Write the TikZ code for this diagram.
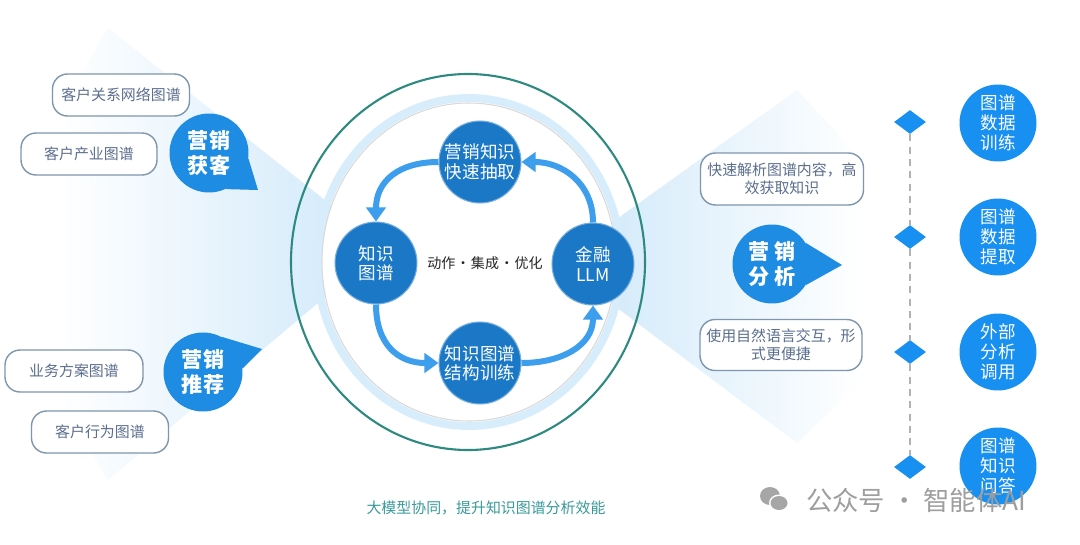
\documentclass[tikz,border=0pt]{standalone}
\usepackage{fontspec}
\setmainfont{Noto Sans CJK SC}
\usetikzlibrary{arrows.meta,shapes.geometric}

\definecolor{coreblue}{HTML}{1A78C6}
\definecolor{arrowblue}{HTML}{3C9EEC}
\definecolor{bubbleblue}{HTML}{1E8CE2}
\definecolor{stepblue}{HTML}{1890F2}
\definecolor{tagline}{HTML}{7F96AD}
\definecolor{tagtext}{HTML}{5B6E8E}
\definecolor{ringteal}{HTML}{2E8A80}
\definecolor{ringlight}{HTML}{D8EDFB}
\definecolor{fanblue}{HTML}{D3EAFA}
\definecolor{capteal}{HTML}{3A9A9A}

\pgfdeclarelayer{fans}
\pgfdeclarelayer{tails}
\pgfsetlayers{fans,tails,main}

\tikzset{
  core/.style={circle,fill=coreblue,draw=coreblue!60!white,line width=0.6pt,minimum size=1.64cm,inner sep=0pt,
    text=white,font=\fontsize{10}{11}\selectfont,align=center},
  tag/.style={rounded corners=0.3cm,draw=tagline,line width=0.8pt,fill=white,text=tagtext,
    font=\fontsize{8.5}{10.4}\selectfont,align=center,inner sep=0pt},
  bubble/.style={circle,fill=bubbleblue,minimum size=1.58cm,inner sep=0pt,text=white,
    font=\bfseries\fontsize{12}{14}\selectfont,align=center},
  stepdot/.style={circle,fill=stepblue,minimum size=1.54cm,inner sep=0pt,text=white,
    font=\fontsize{10}{11.4}\selectfont,align=center},
  marker/.style={diamond,fill=stepblue,minimum width=0.64cm,minimum height=0.48cm,inner sep=0pt},
  cyclearrow/.style={arrowblue,line width=3.4pt,-{Triangle[length=8pt,width=11pt]}},
  timeline/.style={black!30,line width=1.2pt,dash pattern=on 4pt off 3pt},
}

\begin{document}
\begin{tikzpicture}[x=0.02cm,y=-0.02cm]
\useasboundingbox (0,0) rectangle (1080,545);

% white page and light fans
\begin{pgfonlayer}{fans}
\fill[white] (0,0) rectangle (1080,545);
\shade[left color=white,right color=fanblue] (108,28) -- (350,220) -- (350,276) -- (108,480) -- (60,400) -- (60,110) -- cycle;
\shade[left color=fanblue,middle color=fanblue!35!white,right color=white] (600,231) -- (797,90) -- (862,160) -- (862,380) -- (797,443) -- (600,295) -- cycle;
\end{pgfonlayer}

% rings
\draw[ringteal,line width=1.2pt] (468,262) ellipse [x radius=177,y radius=188];
\draw[ringlight,line width=4.5pt] (469,262) ellipse [x radius=152,y radius=164];
\draw[black!15,fill=white,line width=0.6pt] (469,262) ellipse [x radius=147,y radius=159];

% core cycle
\node[core] (kq) at (480,162) {营销知识\\快速抽取};
\node[core] (kg) at (376,263) {知识\\图谱};
\node[core] (llm) at (593,264) {金融\\LLM};
\node[core] (kt) at (480,363) {知识图谱\\结构训练};
\node[text=black!85,font=\fontsize{8}{10}\selectfont] (mid) at (485,263) {动作\hspace{0.05em}·\hspace{0.05em}集成\hspace{0.05em}·\hspace{0.05em}优化};

\draw[cyclearrow] (kq.west) .. controls +(-40,0) and +(0,-40) .. (kg.north);
\draw[cyclearrow] (kg.south) .. controls +(0,40) and +(-40,0) .. (kt.west);
\draw[cyclearrow] (kt.east) .. controls +(40,0) and +(0,40) .. (llm.south);
\draw[cyclearrow] (llm.north) .. controls +(0,-40) and +(40,0) .. (kq.east);

% left side
\node[tag,minimum width=2.74cm,minimum height=0.84cm] (t1) at (121,95) {客户关系网络图谱};
\node[tag,minimum width=2.72cm,minimum height=0.84cm] (t2) at (89,154) {客户产业图谱};
\node[tag,minimum width=2.76cm,minimum height=0.84cm] (t3) at (74,371) {业务方案图谱};
\node[tag,minimum width=2.74cm,minimum height=0.84cm] (t4) at (100,432) {客户行为图谱};

\node[bubble] (hk) at (209,153) {营销\\获客};
\coordinate (hk-tip) at (258,190);
\node[bubble] (tj) at (203,372) {营销\\推荐};
\coordinate (tj-tip) at (262,349);

% right side
\node[tag,minimum width=3.26cm,minimum height=1.04cm] (t5) at (782,179) {快速解析图谱内容，高\\效获取知识};
\node[tag,minimum width=3.24cm,minimum height=1.02cm] (t6) at (781,345) {使用自然语言交互，形\\式更便捷};

\node[bubble] (fx) at (772,264) {营 销\\分 析};
\coordinate (fx-tip) at (842,265);

\begin{pgfonlayer}{tails}
\fill[bubbleblue] (hk.-8) -- (hk-tip) -- (hk.-65) -- cycle;
\fill[bubbleblue] (tj.62) -- (tj-tip) -- (tj.5) -- cycle;
\fill[bubbleblue] (fx.32) -- (fx-tip) -- (fx.-32) -- cycle;
\end{pgfonlayer}

% timeline
\node[marker] (m1) at (910,122) {};
\node[marker] (m2) at (910,237) {};
\node[marker] (m3) at (910,352) {};
\node[marker] (m4) at (910,467) {};
\draw[timeline] (m1) -- (m2);
\draw[timeline] (m2) -- (m3);
\draw[timeline] (m3) -- (m4);

\node[stepdot] (s1) at (998,123) {图谱\\数据\\训练};
\node[stepdot] (s2) at (998,237) {图谱\\数据\\提取};
\node[stepdot] (s3) at (998,352) {外部\\分析\\调用};
\node[stepdot] (s4) at (998,466) {图谱\\知识\\问答};

% caption
\node[text=capteal,font=\fontsize{8.5}{10}\selectfont] (cap) at (486,508) {大模型协同，提升知识图谱分析效能};

% watermark
\fill[black!35] (770,496) ellipse [x radius=10,y radius=9];
\fill[white] (779,503) ellipse [x radius=10,y radius=8.5];
\fill[black!35] (779,503) ellipse [x radius=8.5,y radius=7];
\node[text=black!38,font=\fontsize{15}{17}\selectfont,anchor=west] (wm) at (800,500) {公众号 · 智能体AI};
\end{tikzpicture}
\end{document}
